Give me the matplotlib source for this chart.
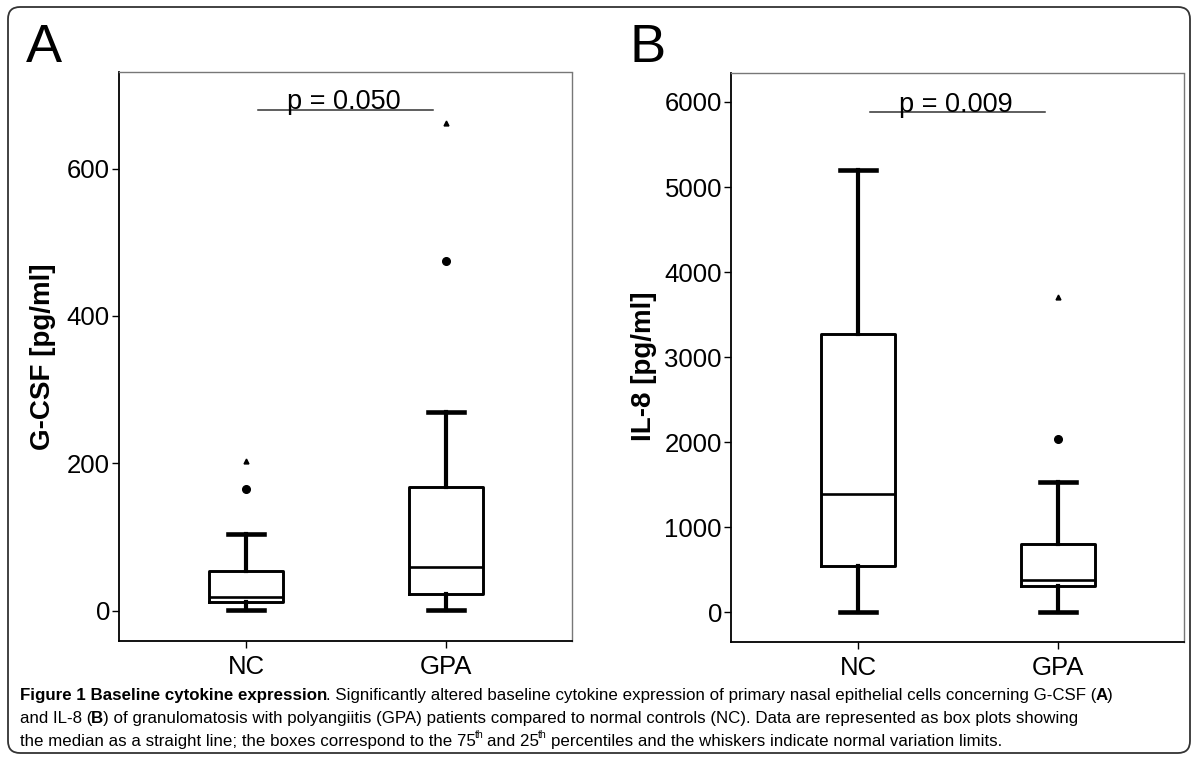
import matplotlib
matplotlib.use('Agg')
import matplotlib.pyplot as plt
from matplotlib.patches import FancyBboxPatch
from matplotlib.transforms import IdentityTransform

groups = ['NC', 'GPA']

# panel A, G-CSF
gcsf_whislo = [1, 1]
gcsf_q1 = [12, 23]
gcsf_med = [19, 60]
gcsf_q3 = [54, 168]
gcsf_whishi = [104, 270]
gcsf_outliers = [[165], [475]]
gcsf_extremes = [[203], [662]]
gcsf_yticks = [0, 200, 400, 600]
gcsf_p = 'p = 0.050'
gcsf_p_y = 680

# panel B, IL-8
il8_whislo = [0, 0]
il8_q1 = [547, 311]
il8_med = [1390, 382]
il8_q3 = [3270, 805]
il8_whishi = [5200, 1534]
il8_outliers = [[], [2040]]
il8_extremes = [[], [3710]]
il8_yticks = [0, 1000, 2000, 3000, 4000, 5000, 6000]
il8_p = 'p = 0.009'
il8_p_y = 5880

chart_font = ['Liberation Sans', 'DejaVu Sans']
cap_font = ['Liberation Sans Narrow', 'Liberation Sans', 'DejaVu Sans']

W, H = 1197, 760
fig = plt.figure(figsize=(W / 100, H / 100), dpi=100)


def box_stats(lo, q1, med, q3, hi, outliers):
    return [dict(whislo=lo[i], q1=q1[i], med=med[i], q3=q3[i],
                 whishi=hi[i], fliers=outliers[i], label=groups[i])
            for i in range(len(groups))]


def draw_panel(rect, stats, extremes, yticks, ylim, p_text, p_y):
    ax = fig.add_axes(rect)
    ax.bxp(stats, positions=[1, 2], widths=0.37, capwidths=0.18,
           boxprops=dict(color='black', linewidth=2.1),
           whiskerprops=dict(color='black', linewidth=3.0),
           capprops=dict(color='black', linewidth=3.3),
           medianprops=dict(color='black', linewidth=1.9),
           flierprops=dict(marker='o', markerfacecolor='black',
                           markeredgecolor='black', markersize=5.5,
                           linestyle='none'))
    for i, ex in enumerate(extremes):
        ax.plot([i + 1] * len(ex), ex, linestyle='none', marker='^',
                color='black', markersize=3.5)
    ax.plot([1.06, 1.935], [p_y, p_y], color='#333333', lw=1.1)
    ax.annotate(p_text, (1.49, p_y), xytext=(0, 0.3), textcoords='offset points',
                ha='center', va='baseline', fontsize=19.5, family=chart_font)
    ax.set_xlim(0.365, 2.63)
    ax.set_ylim(*ylim)
    ax.set_yticks(yticks)
    ax.set_xticks([1, 2], groups)
    for side in ['left', 'bottom']:
        ax.spines[side].set_linewidth(1.3)
    for side in ['top', 'right']:
        ax.spines[side].set_color('#777777')
        ax.spines[side].set_linewidth(1.0)
        ax.spines[side].set_linestyle((0, (1.5, 1)))
    ax.tick_params(direction='out', length=5, width=1, labelsize=18.5)
    ax.tick_params(axis='y', pad=1.5)
    ax.tick_params(axis='x', pad=5)
    for lab in ax.get_xticklabels() + ax.get_yticklabels():
        lab.set_family(chart_font)
    return ax


ax_a = draw_panel([119 / W, 1 - 641 / H, 453 / W, 569 / H],
                  box_stats(gcsf_whislo, gcsf_q1, gcsf_med, gcsf_q3,
                            gcsf_whishi, gcsf_outliers),
                  gcsf_extremes, gcsf_yticks, (-41, 731), gcsf_p, gcsf_p_y)
ax_b = draw_panel([731 / W, 1 - 642 / H, 453 / W, 569 / H],
                  box_stats(il8_whislo, il8_q1, il8_med, il8_q3,
                            il8_whishi, il8_outliers),
                  il8_extremes, il8_yticks, (-347, 6340), il8_p, il8_p_y)

fig.text(43 / W, 1 - 357 / H, 'G-CSF [pg/ml]', rotation=90, ha='center',
         va='center', fontsize=20, fontweight='bold', family=chart_font)
fig.text(644 / W, 1 - 366 / H, 'IL-8 [pg/ml]', rotation=90, ha='center',
         va='center', fontsize=20, fontweight='bold', family=chart_font)

fig.text(26 / W, 1 - 62 / H, 'A', fontsize=39, family=chart_font,
         ha='left', va='baseline')
fig.text(630 / W, 1 - 62 / H, 'B', fontsize=39, family=chart_font,
         ha='left', va='baseline')

# rounded frame around the whole figure
frame = FancyBboxPatch((8, 7), 1182, 746, boxstyle='round,pad=0,rounding_size=12',
                       transform=IdentityTransform(), fill=False,
                       edgecolor='#333333', linewidth=1.3)
fig.add_artist(frame)

# caption, drawn run by run
caption = [
    [('Figure 1 Baseline cytokine expression', 'b'),
     ('. Significantly altered baseline cytokine expression of primary nasal '
      'epithelial cells concerning G-CSF (', 'n'), ('A', 'b'), (')', 'n')],
    [('and IL-8 (', 'n'), ('B', 'b'),
     (') of granulomatosis with polyangiitis (GPA) patients compared to normal '
      'controls (NC). Data are represented as box plots showing', 'n')],
    [('the median as a straight line; the boxes correspond to the 75', 'n'),
     ('th', 's'), (' and 25', 'n'), ('th', 's'),
     (' percentiles and the whiskers indicate normal variation limits.', 'n')],
]
cap_size = 12.2
cap_baselines = [700, 723, 746]

renderer = fig.canvas.get_renderer()


def text_width(txt, size, weight):
    t = fig.text(0, 0, txt, fontsize=size, fontweight=weight, family=cap_font)
    w = t.get_window_extent(renderer).width
    t.remove()
    return w


space_w = text_width('x x', cap_size, 'normal') - text_width('xx', cap_size, 'normal')

for line, base in zip(caption, cap_baselines):
    x = 20
    for txt, style in line:
        size = cap_size * 0.62 if style == 's' else cap_size
        weight = 'bold' if style == 'b' else 'normal'
        y = base - (cap_size * 0.5 * 100 / 72 if style == 's' else 0)
        if txt.startswith(' '):
            x += space_w
            txt = txt.lstrip(' ')
        t = fig.text(x / W, 1 - y / H, txt, fontsize=size, fontweight=weight,
                     family=cap_font, ha='left', va='baseline')
        x += t.get_window_extent(renderer).width - 1

fig.savefig('out.png', dpi=100)
